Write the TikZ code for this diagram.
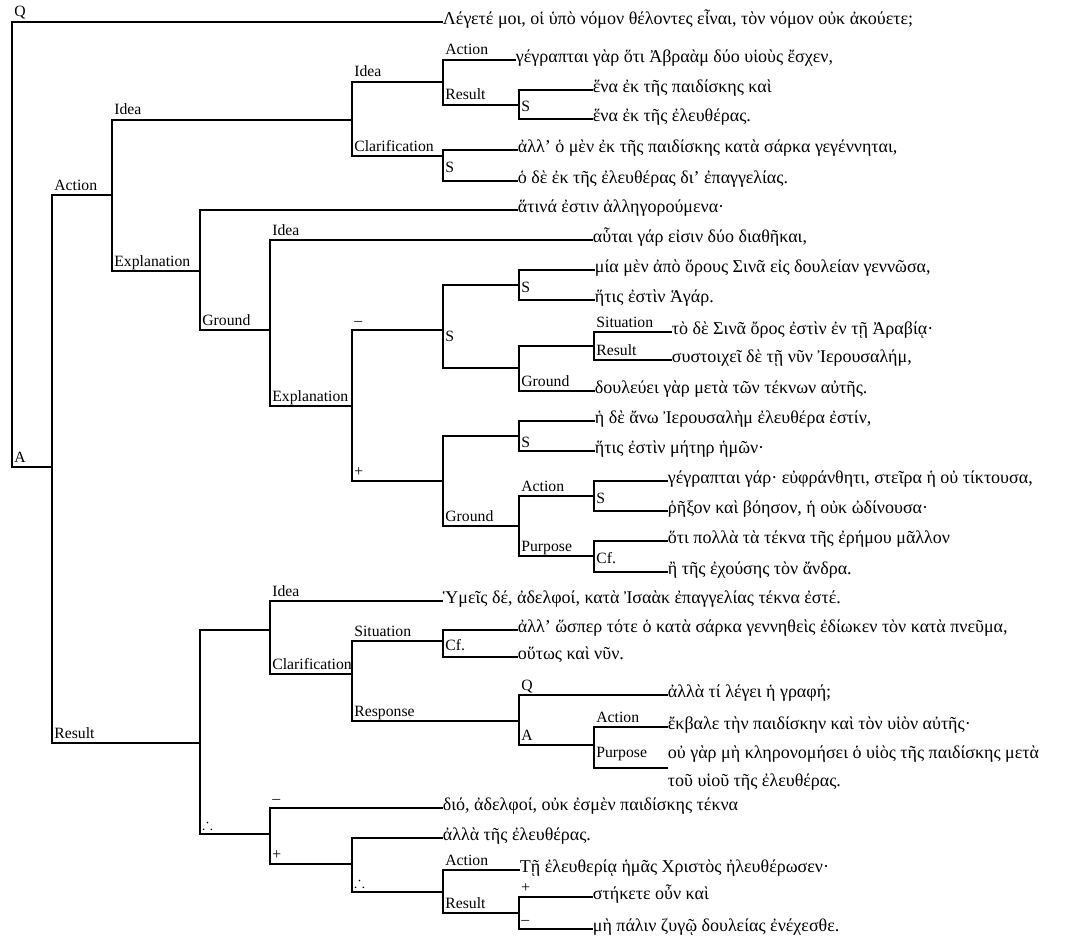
\documentclass[tikz,border=0pt]{standalone}
\usepackage{amssymb}
\usepackage{fontspec}
\setmainfont{Liberation Serif}

\begin{document}
\begin{tikzpicture}[x=1pt, y=-1pt, line width=1.8pt, line cap=rect,
    gk/.style={anchor=mid west, inner sep=0pt, font=\fontsize{18}{21}\selectfont},
    lbl/.style={pos=0.5, anchor=base west, inner sep=1.5pt, yshift=5pt, font=\fontsize{15.7}{17}\selectfont},
    typ/.style={anchor=base west, inner sep=1.5pt, font=\fontsize{15.7}{17}\selectfont}]

    \useasboundingbox (0,0) rectangle (1068,947);

    % text lines
    \node[gk] (l1) at (442,22) {Λέγετέ μοι, οἱ ὑπὸ νόμον θέλοντες εἶναι, τὸν νόμον οὐκ ἀκούετε;};
    \node[gk] (l2) at (515,60) {γέγραπται γὰρ ὅτι Ἀβραὰμ δύο υἱοὺς ἔσχεν,};
    \node[gk] (l3) at (592,90) {ἕνα ἐκ τῆς παιδίσκης καὶ};
    \node[gk] (l4) at (592,119) {ἕνα ἐκ τῆς ἐλευθέρας.};
    \node[gk] (l5) at (517,150) {ἀλλ’ ὁ μὲν ἐκ τῆς παιδίσκης κατὰ σάρκα γεγέννηται,};
    \node[gk] (l6) at (517,181) {ὁ δὲ ἐκ τῆς ἐλευθέρας δι’ ἐπαγγελίας.};
    \node[gk] (l7) at (517,210) {ἅτινά ἐστιν ἀλληγορούμενα·};
    \node[gk] (l8) at (592,240) {αὗται γάρ εἰσιν δύο διαθῆκαι,};
    \node[gk] (l9) at (594,270) {μία μὲν ἀπὸ ὄρους Σινᾶ εἰς δουλείαν γεννῶσα,};
    \node[gk] (l10) at (594,300) {ἥτις ἐστὶν Ἁγάρ.};
    \node[gk] (l11) at (671,332) {τὸ δὲ Σινᾶ ὄρος ἐστὶν ἐν τῇ Ἀραβίᾳ·};
    \node[gk] (l12) at (671,360) {συστοιχεῖ δὲ τῇ νῦν Ἰερουσαλήμ,};
    \node[gk] (l13) at (594,391) {δουλεύει γὰρ μετὰ τῶν τέκνων αὐτῆς.};
    \node[gk] (l14) at (594,421) {ἡ δὲ ἄνω Ἰερουσαλὴμ ἐλευθέρα ἐστίν,};
    \node[gk] (l15) at (594,451) {ἥτις ἐστὶν μήτηρ ἡμῶν·};
    \node[gk] (l16) at (667,481) {γέγραπται γάρ· εὐφράνθητι, στεῖρα ἡ οὐ τίκτουσα,};
    \node[gk] (l17) at (667,511) {ῥῆξον καὶ βόησον, ἡ οὐκ ὠδίνουσα·};
    \node[gk] (l18) at (667,541) {ὅτι πολλὰ τὰ τέκνα τῆς ἐρήμου μᾶλλον};
    \node[gk] (l19) at (667,572) {ἢ τῆς ἐχούσης τὸν ἄνδρα.};
    \node[gk] (l20) at (442,601) {Ὑμεῖς δέ, ἀδελφοί, κατὰ Ἰσαὰκ ἐπαγγελίας τέκνα ἐστέ.};
    \node[gk] (l21) at (517,630) {ἀλλ’ ὥσπερ τότε ὁ κατὰ σάρκα γεννηθεὶς ἐδίωκεν τὸν κατὰ πνεῦμα,};
    \node[gk] (l22) at (517,657) {οὕτως καὶ νῦν.};
    \node[gk] (l23) at (667,695) {ἀλλὰ τί λέγει ἡ γραφή;};
    \node[gk] (l24) at (667,727) {ἔκβαλε τὴν παιδίσκην καὶ τὸν υἱὸν αὐτῆς·};
    \node[gk, anchor=west, align=left, font=\fontsize{18}{28}\selectfont] (l25) at (667,768)
        {οὐ γὰρ μὴ κληρονομήσει ὁ υἱὸς τῆς παιδίσκης μετὰ\\τοῦ υἱοῦ τῆς ἐλευθέρας.};
    \node[gk] (l26) at (442,808) {διό, ἀδελφοί, οὐκ ἐσμὲν παιδίσκης τέκνα};
    \node[gk] (l27) at (442,838) {ἀλλὰ τῆς ἐλευθέρας.};
    \node[gk] (l28) at (519,870) {Τῇ ἐλευθερίᾳ ἡμᾶς Χριστὸς ἠλευθέρωσεν·};
    \node[gk] (l29) at (592,897) {στήκετε οὖν καὶ};
    \node[gk] (l30) at (592,929) {μὴ πάλιν ζυγῷ δουλείας ἐνέχεσθε.};

    % junctions
    \coordinate (root) at (12,22);
    \coordinate (jA) at (52,467);
    \coordinate (jAct) at (112,195);
    \coordinate (jIdea) at (352,120);
    \coordinate (jIdea2) at (443,82);
    \coordinate (jS1) at (519,105);
    \coordinate (jCl1) at (443,156);
    \coordinate (jExp) at (200,271);
    \coordinate (jGr) at (270,330);
    \coordinate (jExp2) at (352,406);
    \coordinate (jMin) at (443,330);
    \coordinate (jS2) at (519,285);
    \coordinate (jGr2) at (519,368);
    \coordinate (jSit) at (594,346);
    \coordinate (jPlus) at (443,481);
    \coordinate (jS3) at (519,436);
    \coordinate (jGr3) at (519,526);
    \coordinate (jS4) at (594,496);
    \coordinate (jCf1) at (594,556);
    \coordinate (jRes) at (200,743);
    \coordinate (jId3) at (270,630);
    \coordinate (jCl2) at (352,674);
    \coordinate (jCf2) at (443,641);
    \coordinate (jQA) at (519,721);
    \coordinate (jAns) at (594,745);
    \coordinate (jThf) at (270,834);
    \coordinate (jPl2) at (352,864);
    \coordinate (jThf2) at (443,892);
    \coordinate (jRes2) at (519,913);

    % connectors
    \draw (root) |- node[lbl]{Q} (l1.mid west);
    \draw (root) |- node[lbl]{A} (jA);
    \draw (jA) |- node[lbl]{Action} (jAct);
    \draw (jA) |- node[lbl]{Result} (jRes);
    \draw (jAct) |- node[lbl]{Idea} (jIdea);
    \draw (jAct) |- node[lbl]{Explanation} (jExp);
    \draw (jIdea) |- node[lbl]{Idea} (jIdea2);
    \draw (jIdea) |- node[lbl]{Clarification} (jCl1);
    \draw (jIdea2) |- node[lbl]{Action} (l2.mid west);
    \draw (jIdea2) |- node[lbl]{Result} (jS1);
    \draw (jS1) |- (l3.mid west);
    \draw (jS1) |- (l4.mid west);
    \draw (jCl1) |- (l5.mid west);
    \draw (jCl1) |- (l6.mid west);
    \draw (jExp) |- (l7.mid west);
    \draw (jExp) |- node[lbl]{Ground} (jGr);
    \draw (jGr) |- node[lbl]{Idea} (l8.mid west);
    \draw (jGr) |- node[lbl]{Explanation} (jExp2);
    \draw (jExp2) |- node[lbl]{–} (jMin);
    \draw (jExp2) |- node[lbl]{+} (jPlus);
    \draw (jMin) |- (jS2);
    \draw (jMin) |- (jGr2);
    \draw (jS2) |- (l9.mid west);
    \draw (jS2) |- (l10.mid west);
    \draw (jGr2) |- (jSit);
    \draw (jGr2) |- node[lbl]{Ground} (l13.mid west);
    \draw (jSit) |- node[lbl]{Situation} (l11.mid west);
    \draw (jSit) |- node[lbl]{Result} (l12.mid west);
    \draw (jPlus) |- (jS3);
    \draw (jPlus) |- node[lbl]{Ground} (jGr3);
    \draw (jS3) |- (l14.mid west);
    \draw (jS3) |- (l15.mid west);
    \draw (jGr3) |- node[lbl]{Action} (jS4);
    \draw (jGr3) |- node[lbl]{Purpose} (jCf1);
    \draw (jS4) |- (l16.mid west);
    \draw (jS4) |- (l17.mid west);
    \draw (jCf1) |- (l18.mid west);
    \draw (jCf1) |- (l19.mid west);
    \draw (jRes) |- (jId3);
    \draw (jRes) |- node[lbl]{$\therefore$} (jThf);
    \draw (jId3) |- node[lbl]{Idea} (l20.mid west);
    \draw (jId3) |- node[lbl]{Clarification} (jCl2);
    \draw (jCl2) |- node[lbl]{Situation} (jCf2);
    \draw (jCl2) |- node[lbl]{Response} (jQA);
    \draw (jCf2) |- (l21.mid west);
    \draw (jCf2) |- (l22.mid west);
    \draw (jQA) |- node[lbl]{Q} (l23.mid west);
    \draw (jQA) |- node[lbl]{A} (jAns);
    \draw (jAns) |- node[lbl]{Action} (l24.mid west);
    \draw (jAns) |- node[lbl, yshift=6pt]{Purpose} (l25.west);
    \draw (jThf) |- node[lbl]{–} (l26.mid west);
    \draw (jThf) |- node[lbl]{+} (jPl2);
    \draw (jPl2) |- (l27.mid west);
    \draw (jPl2) |- node[lbl]{$\therefore$} (jThf2);
    \draw (jThf2) |- node[lbl]{Action} (l28.mid west);
    \draw (jThf2) |- node[lbl]{Result} (jRes2);
    \draw (jRes2) |- node[lbl]{+} (l29.mid west);
    \draw (jRes2) |- node[lbl]{–} (l30.mid west);

    % bracket types
    \node[typ] at (519,112) {S};
    \node[typ] at (443,172) {S};
    \node[typ] at (443,341) {S};
    \node[typ] at (519,292) {S};
    \node[typ] at (519,447) {S};
    \node[typ] at (594,503) {S};
    \node[typ] at (594,563) {Cf.};
    \node[typ] at (443,650) {Cf.};

\end{tikzpicture}
\end{document}
